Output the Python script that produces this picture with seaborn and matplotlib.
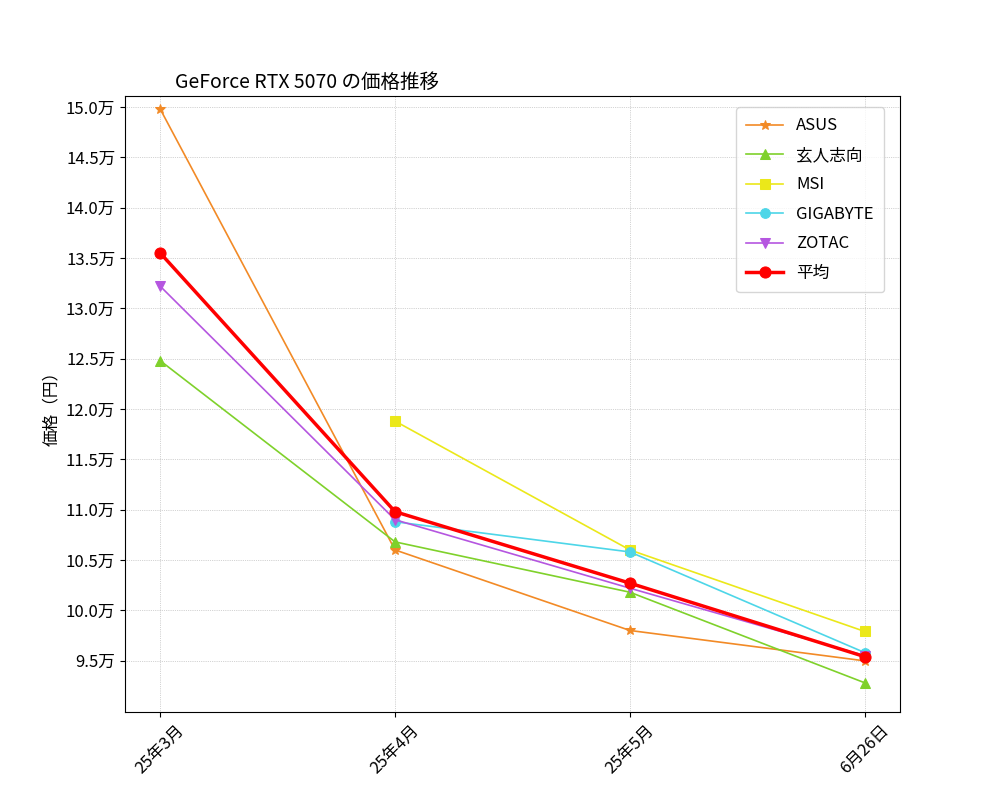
import matplotlib
matplotlib.use('Agg')
import matplotlib.pyplot as plt
import matplotlib.ticker as mticker
import numpy as np
import seaborn as sns

plt.rcParams['font.family'] = 'Noto Sans CJK JP'

periods = ['25年3月', '25年4月', '25年5月', '6月26日']
asus = [149800, 106000, 98000, 94980]
kuroto = [124800, 106800, 101800, 92800]
msi = [np.nan, 118800, 106000, 97900]
gigabyte = [np.nan, 108800, 105800, 95800]
zotac = [132200, 109000, 102200, 95500]
average = [135500, 109800, 102700, 95400]

series = [
    ('ASUS', asus, '#f28a26', '*'),
    ('玄人志向', kuroto, '#7fd12b', '^'),
    ('MSI', msi, '#ebe81a', 's'),
    ('GIGABYTE', gigabyte, '#4dd6e8', 'o'),
    ('ZOTAC', zotac, '#b556e0', 'v'),
]

fig, ax = plt.subplots(figsize=(10, 8), dpi=100)
x = np.arange(len(periods))
for name, vals, color, marker in series:
    sns.lineplot(x=x, y=vals, ax=ax, color=color, marker=marker, markersize=7,
                 markeredgecolor=color, linewidth=1.2, label=name)
sns.lineplot(x=x, y=average, ax=ax, color='red', marker='o', markersize=8,
             markeredgecolor='red', linewidth=2.5, label='平均')

ax.set_xticks(x)
ax.set_xticklabels(periods, rotation=45, fontsize=12)
ax.set_xlim(-0.15, 3.15)
ax.set_ylim(89900, 151100)
ax.set_yticks(np.arange(95000, 150001, 5000))
ax.yaxis.set_major_formatter(mticker.FuncFormatter(lambda v, p: f'{v/10000:.1f}万'))
ax.tick_params(axis='y', labelsize=12)
ax.set_ylabel('価格（円）', fontsize=12)
ax.set_title('GeForce RTX 5070 の価格推移', fontsize=14, loc='left', x=0.065)
ax.grid(True, linestyle=':', linewidth=0.5, color='#aaaaaa')
ax.legend(loc='upper right', fontsize=12, labelspacing=0.75, borderpad=0.6,
          handlelength=2.2, bbox_to_anchor=(0.99, 0.995))
plt.savefig('out.png')
